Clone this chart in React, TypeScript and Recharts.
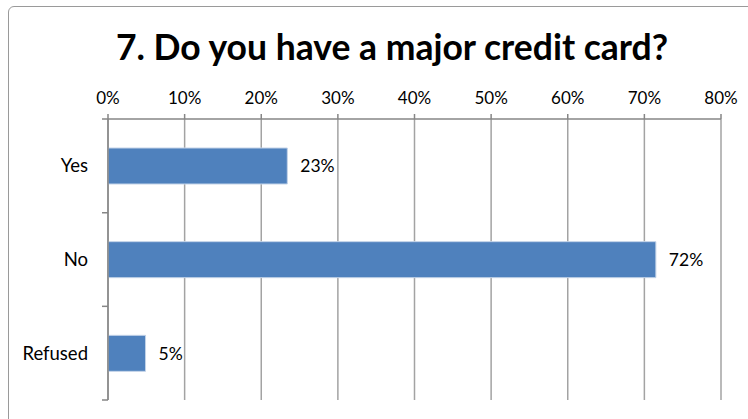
import React from 'react';
import { BarChart, Bar, XAxis, YAxis, CartesianGrid, LabelList } from 'recharts';

const chartTitle = '7. Do you have a major credit card?';
const categories = ['Yes', 'No', 'Refused'];
const shares = [0.234, 0.715, 0.049];
const percentTicks = [0, 0.1, 0.2, 0.3, 0.4, 0.5, 0.6, 0.7, 0.8];

const data = categories.map((name, i) => ({ name, value: shares[i] }));
const pct = (v: number) => `${Math.round(v * 100)}%`;
const FONT = 'Lato, "Open Sans", sans-serif';
const AXIS = '#868686';
const CAT_TICK = 6;
const CAT_MARGIN = 14;

const CategoryTick = (props: any) => {
  const { x, y, payload, index } = props;
  const half = Number(payload?.offset) || 0;
  const axisX = x + CAT_TICK + CAT_MARGIN;
  const last = index === categories.length - 1;
  return (
    <g>
      <line x1={axisX - CAT_TICK} x2={axisX} y1={y - half} y2={y - half} stroke={AXIS} strokeWidth={1.5} />
      {last && (
        <line x1={axisX - CAT_TICK} x2={axisX} y1={y + half} y2={y + half} stroke={AXIS} strokeWidth={1.5} />
      )}
      <text x={x} y={y} dy="0.355em" textAnchor="end" fill="#000" fontSize={18.5} fontFamily={FONT}>
        {payload.value}
      </text>
    </g>
  );
};

export default function App() {
  return (
    <div
      style={{
        position: 'absolute',
        left: 8,
        top: 6,
        width: 760,
        height: 430,
        border: '1px solid #9a9a9a',
        borderRadius: 6,
        background: '#fff',
        overflow: 'hidden',
      }}
    >
      <div
        style={{
          position: 'absolute',
          left: 0,
          top: 22,
          width: 766,
          textAlign: 'center',
          fontFamily: FONT,
          fontWeight: 700,
          fontSize: 35.5,
          lineHeight: '35px',
          color: '#000',
          whiteSpace: 'nowrap',
        }}
      >
        {chartTitle}
      </div>
      <BarChart
        width={760}
        height={420}
        data={data}
        layout="vertical"
        margin={{ top: 82, right: 48, bottom: 27, left: 0 }}
      >
        <CartesianGrid horizontal={false} stroke="#a3a3a3" strokeWidth={1.5} />
        <XAxis
          type="number"
          orientation="top"
          height={30}
          domain={[0, 0.8]}
          ticks={percentTicks}
          interval={0}
          allowDataOverflow
          tickFormatter={pct}
          tickSize={5}
          tickMargin={10}
          tick={{ fill: '#000', fontSize: 17, fontFamily: FONT }}
          axisLine={{ stroke: AXIS, strokeWidth: 1.5 }}
          tickLine={{ stroke: AXIS, strokeWidth: 1.5 }}
        />
        <YAxis
          type="category"
          dataKey="name"
          width={99}
          tickSize={CAT_TICK}
          tickMargin={CAT_MARGIN}
          tickLine={false}
          interval={0}
          tick={<CategoryTick />}
          axisLine={{ stroke: AXIS, strokeWidth: 1.5 }}
        />
        <Bar
          dataKey="value"
          fill="#4F81BD"
          stroke="#c3d3e8"
          strokeWidth={1}
          barSize={36}
          isAnimationActive={false}
        >
          <LabelList
            dataKey="value"
            position="right"
            offset={13}
            formatter={(v: any) => pct(Number(v))}
            fill="#000"
            fontSize={17.5}
            fontFamily={FONT}
          />
        </Bar>
      </BarChart>
    </div>
  );
}
